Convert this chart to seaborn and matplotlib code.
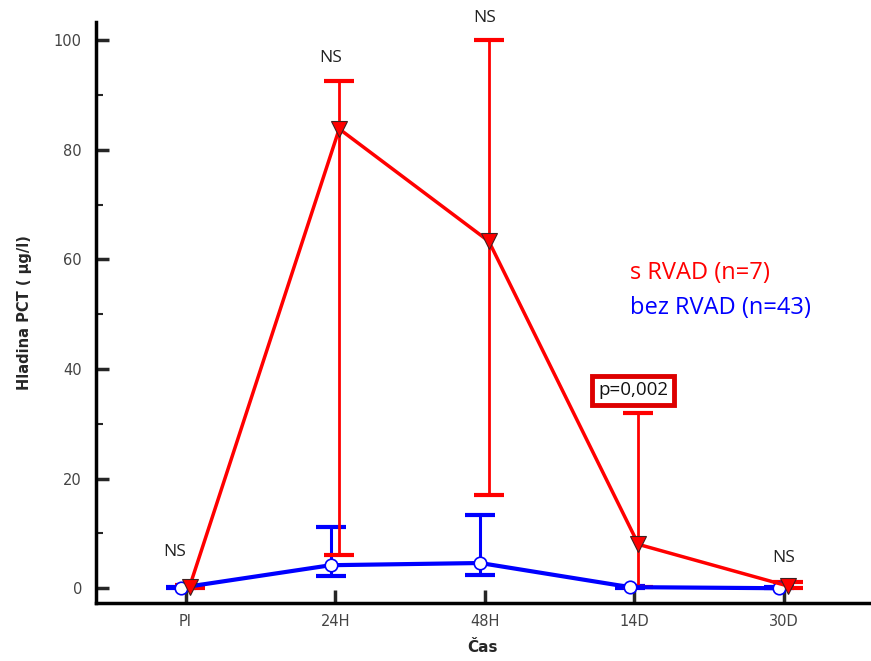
import matplotlib
matplotlib.use("Agg")
import matplotlib.pyplot as plt
import seaborn as sns
import pandas as pd
import numpy as np
from matplotlib.ticker import MultipleLocator

categories = ["PI", "24H", "48H", "14D", "30D"]

red_mean = [0.3, 83.8, 63.3, 8.0, 0.4]
red_upper = [0.6, 92.5, 100.0, 31.9, 1.1]
red_lower = [0.0, 6.0, 17.0, 0.2, 0.0]

blue_mean = [0.1, 4.2, 4.6, 0.2, 0.0]
blue_upper = [0.3, 11.2, 13.3, 0.4, 0.2]
blue_lower = [0.0, 2.2, 2.5, 0.1, 0.0]

ns_labels = [("NS", -0.07, 6.6), ("NS", 0.97, 96.7), ("NS", 2.0, 104.0), ("NS", 4.0, 5.5)]

sns.set_theme(style="ticks")
plt.rcParams['font.family'] = ['DejaVu Sans']

fig = plt.figure(figsize=(8.71, 6.61), dpi=100)
ax = fig.add_axes([0.110, 0.0877, 0.888, 0.879])

x = np.arange(len(categories))
xb = x - 0.03
xr = x + 0.027

df = pd.DataFrame({
    "x": np.concatenate([xb, xr]),
    "y": blue_mean + red_mean,
    "group": ["bez RVAD"] * 5 + ["s RVAD"] * 5,
})

rm = np.array(red_mean); bm = np.array(blue_mean)
ax.errorbar(xb, bm, yerr=[bm - np.array(blue_lower), np.array(blue_upper) - bm],
            fmt="none", ecolor="#0000ff", elinewidth=2.2, capsize=11, capthick=3, zorder=2)
ax.errorbar(xr, rm, yerr=[rm - np.array(red_lower), np.array(red_upper) - rm],
            fmt="none", ecolor="#ff0000", elinewidth=2.0, capsize=11, capthick=3, zorder=3)

sns.lineplot(data=df[df.group == "bez RVAD"], x="x", y="y", color="#0000ff", lw=3,
             marker="o", markersize=9, markerfacecolor="white", markeredgecolor="#0000ff",
             markeredgewidth=1.2, ax=ax, zorder=4, legend=False)
sns.lineplot(data=df[df.group == "s RVAD"], x="x", y="y", color="#ff0000", lw=2.5,
             marker="v", markersize=12, markerfacecolor="#ff0000", markeredgecolor="#402020",
             markeredgewidth=0.8, ax=ax, zorder=5, legend=False)

ax.set_xlim(-0.6, 4.57)
ax.set_ylim(-2.7, 103.3)
ax.set_xticks(x)
ax.set_xticklabels(categories)
ax.yaxis.set_major_locator(MultipleLocator(20))
ax.yaxis.set_minor_locator(MultipleLocator(10))

for s in ["top", "right"]:
    ax.spines[s].set_visible(False)
for s in ["left", "bottom"]:
    ax.spines[s].set_linewidth(2.5)
    ax.spines[s].set_color("black")

ax.tick_params(axis="y", which="major", direction="in", length=9.5, width=2.5,
               labelsize=10.5, labelcolor="#444444", pad=10)
ax.tick_params(axis="y", which="minor", direction="in", length=5, width=1.5)
ax.tick_params(axis="x", which="major", direction="in", length=9.5, width=2.5,
               labelsize=10.5, labelcolor="#444444", pad=8)

ax.set_xlabel("Čas", fontsize=11, fontweight="bold", labelpad=8)
ax.set_ylabel("Hladina PCT ( µg/l)", fontsize=10.5, fontweight="bold", labelpad=16)

for t, tx, ty in ns_labels:
    ax.text(tx, ty, t, fontsize=12.5, color="#222222", ha="center", va="center",
            clip_on=False, family=["Open Sans"])

ax.text(2.99, 36.1, "p=0,002", fontsize=13.5, color="#111111", ha="center", va="center",
        family=["Open Sans"],
        bbox=dict(boxstyle="square,pad=0.3", facecolor="white", edgecolor="#dd0000", linewidth=3.5))

ax.text(2.97, 57.5, "s RVAD (n=7)", fontsize=17, color="#ff0000", ha="left", va="center",
        family=["Open Sans"])
ax.text(2.97, 51.1, "bez RVAD (n=43)", fontsize=17, color="#0000ff", ha="left", va="center",
        family=["Open Sans"])

fig.savefig("out.png", dpi=100)
